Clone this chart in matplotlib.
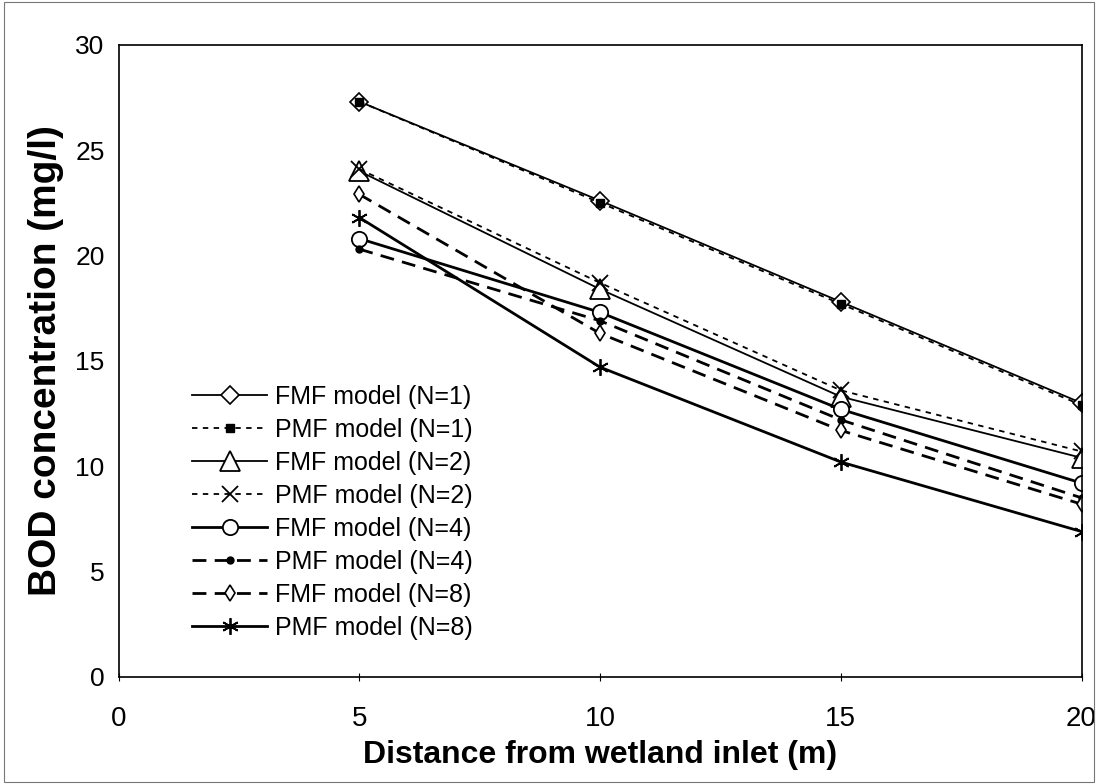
import matplotlib
matplotlib.use("Agg")
import matplotlib.pyplot as plt
from matplotlib.patches import Rectangle

# distance from inlet (m)
distance = [5, 10, 15, 20]

# BOD concentration (mg/l)
fmf_n1 = [27.3, 22.6, 17.8, 13.0]
pmf_n1 = [27.3, 22.5, 17.7, 12.9]
fmf_n2 = [24.0, 18.4, 13.3, 10.4]
pmf_n2 = [24.1, 18.7, 13.6, 10.7]
fmf_n4 = [20.8, 17.3, 12.7, 9.2]
pmf_n4 = [20.3, 16.9, 12.2, 8.5]
fmf_n8 = [22.9, 16.3, 11.7, 8.2]
pmf_n8 = [21.8, 14.7, 10.2, 6.9]

labels = ["FMF model (N=1)", "PMF model (N=1)", "FMF model (N=2)", "PMF model (N=2)",
          "FMF model (N=4)", "PMF model (N=4)", "FMF model (N=8)", "PMF model (N=8)"]

plt.rcParams['font.family'] = ['Liberation Sans', 'DejaVu Sans']

fig = plt.figure(figsize=(10.98, 7.84), dpi=100)
ax = fig.add_axes([0.108, 0.1365, 0.877, 0.8065])

series = [
    (fmf_n1, dict(ls='-', lw=1.3, marker='D', ms=9, mfc='white', mec='black', mew=1.2)),
    (pmf_n1, dict(ls=(0, (3, 3)), lw=1.3, marker='s', ms=6, mfc='black', mec='black')),
    (fmf_n2, dict(ls='-', lw=1.3, marker='^', ms=14, mfc='white', mec='black', mew=1.3)),
    (pmf_n2, dict(ls=(0, (3, 3)), lw=1.3, marker='x', ms=12, mec='black', mew=1.3)),
    (fmf_n4, dict(ls='-', lw=2.0, marker='o', ms=11, mfc='white', mec='black', mew=1.3)),
    (pmf_n4, dict(ls=(0, (5, 3)), lw=2.0, marker='o', ms=5, mfc='black', mec='black')),
    (fmf_n8, dict(ls=(0, (5, 3)), lw=2.0, marker='d', ms=8, mfc='white', mec='black', mew=1.2)),
    (pmf_n8, dict(ls='-', lw=2.0, marker=(6, 2, 0), ms=12, mec='black', mew=1.3)),
]
for (vals, style), lab in zip(series, labels):
    ax.plot(distance, vals, color='black', label=lab, **style)

ax.set_xlim(0, 20)
ax.set_ylim(0, 30)
ax.set_xticks([0, 5, 10, 15, 20])
ax.set_yticks([0, 5, 10, 15, 20, 25, 30])
ax.tick_params(axis='x', labelsize=20, direction='inout', length=6, pad=18)
ax.tick_params(axis='y', labelsize=19, length=0, pad=10)
for sp in ax.spines.values():
    sp.set_linewidth(1.2)

ax.set_xlabel("Distance from wetland inlet (m)", fontsize=23, fontweight='bold', labelpad=6)
ax.set_ylabel("BOD concentration (mg/l)", fontsize=28, fontweight='bold', labelpad=8)

ax.legend(loc='upper left', bbox_to_anchor=(0.066, 0.478), frameon=False, fontsize=18,
          handlelength=3.0, handletextpad=0.3, labelspacing=0.36, borderaxespad=0)

# scanned page frame
fig.patches.append(Rectangle((0.004, 0.003), 0.992, 0.994, transform=fig.transFigure,
                             fill=False, ec='#777777', lw=0.8))

fig.savefig("out.png", dpi=100)
